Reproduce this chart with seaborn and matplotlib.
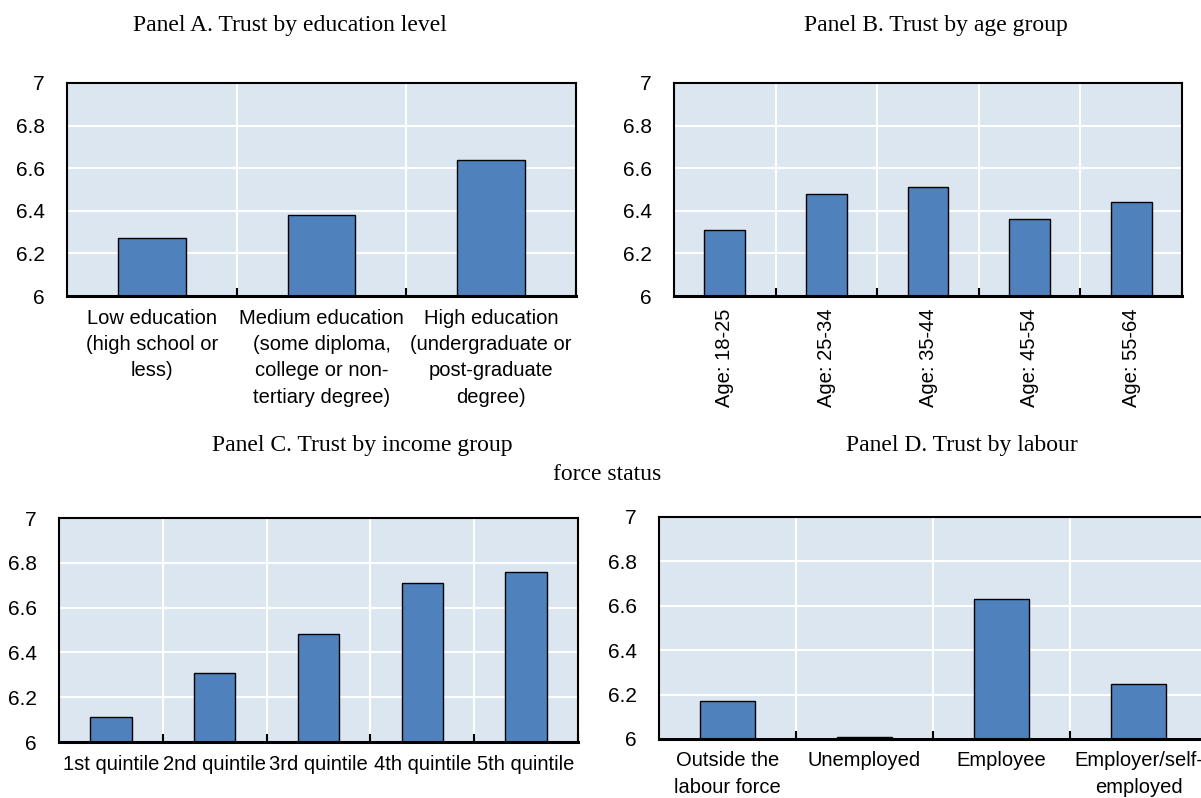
import numpy as np
import pandas as pd
import seaborn as sns
import matplotlib.pyplot as plt

# donnees
edu_labels = ['Low education\n(high school or\nless)',
              'Medium education\n(some diploma,\ncollege or non-\ntertiary degree)',
              'High education\n(undergraduate or\npost-graduate\ndegree)']
edu_values = [6.27, 6.38, 6.64]

age_labels = ['Age: 18-25', 'Age: 25-34', 'Age: 35-44', 'Age: 45-54', 'Age: 55-64']
age_values = [6.31, 6.48, 6.51, 6.36, 6.44]

income_labels = ['1st quintile', '2nd quintile', '3rd quintile', '4th quintile', '5th quintile']
income_values = [6.11, 6.31, 6.48, 6.71, 6.76]

labour_labels = ['Outside the\nlabour force', 'Unemployed', 'Employee', 'Employer/self-\nemployed']
labour_values = [6.17, 6.01, 6.63, 6.25]

y_ticks = [6, 6.2, 6.4, 6.6, 6.8, 7]

sns.set_style('white')
plt.rcParams['font.family'] = ['Liberation Sans Narrow', 'Liberation Sans', 'DejaVu Sans']
plt.rcParams['text.color'] = 'black'
plt.rcParams['xtick.color'] = 'black'
plt.rcParams['ytick.color'] = 'black'

bar_color = '#4f81bd'
bg_color = '#dce6f1'
W, H = 1201, 798

fig = plt.figure(figsize=(W / 100, H / 100), dpi=100)


def panel(rect, labels, values, rotate=False):
    # rect en pixels : gauche, haut, droite, bas
    l, t, r, b = rect
    ax = fig.add_axes([l / W, 1 - b / H, (r - l) / W, (b - t) / H])
    df = pd.DataFrame({'cat': labels, 'val': values})
    sns.barplot(data=df, x='cat', y='val', color=bar_color, saturation=1,
                width=0.4, edgecolor='black', linewidth=1, ax=ax)
    n = len(labels)
    ax.set_facecolor(bg_color)
    ax.set_xlim(-0.5, n - 0.5)
    ax.set_ylim(6, 7)
    ax.set_yticks(y_ticks)
    ax.set_yticklabels(['%g' % v for v in y_ticks], fontsize=15, color='black')
    ax.set_xticks(np.arange(n) + 0.5, minor=True)
    ax.set_xticklabels(labels, fontsize=14.5, rotation=90 if rotate else 0,
                       ha='center', va='top', linespacing=1.5, color='black')
    ax.set_xlabel('')
    ax.set_ylabel('')
    ax.grid(True, axis='y', which='major', color='white', linewidth=1.5)
    ax.grid(True, axis='x', which='minor', color='white', linewidth=1.5)
    ax.set_axisbelow(True)
    ax.tick_params(axis='y', length=0, pad=16)
    ax.tick_params(axis='x', which='major', length=0, pad=9)
    ax.tick_params(axis='x', which='minor', direction='in', length=6,
                   width=1.5, color='black', bottom=True)
    for s in ax.spines.values():
        s.set_visible(True)
        s.set_color('black')
        s.set_linewidth(1.5)
    ax.spines['bottom'].set_linewidth(2.2)
    return ax


panel((67, 83, 576, 296), edu_labels, edu_values)
panel((674, 83, 1182, 296), age_labels, age_values, rotate=True)
panel((59, 518, 578, 742), income_labels, income_values)
panel((659, 517, 1207, 739), labour_labels, labour_values)

title_font = dict(family=['Liberation Serif', 'DejaVu Serif'], fontsize=17,
                  va='center', color='black')
fig.text(290 / W, 1 - 25 / H, 'Panel A. Trust by education level', ha='center', **title_font)
fig.text(936 / W, 1 - 25 / H, 'Panel B. Trust by age group', ha='center', **title_font)
fig.text(362 / W, 1 - 445 / H, 'Panel C. Trust by income group', ha='center', **title_font)
fig.text(962 / W, 1 - 445 / H, 'Panel D. Trust by labour', ha='center', **title_font)
fig.text(553 / W, 1 - 474 / H, 'force status', ha='left', **title_font)

plt.savefig('out.png', dpi=100)
